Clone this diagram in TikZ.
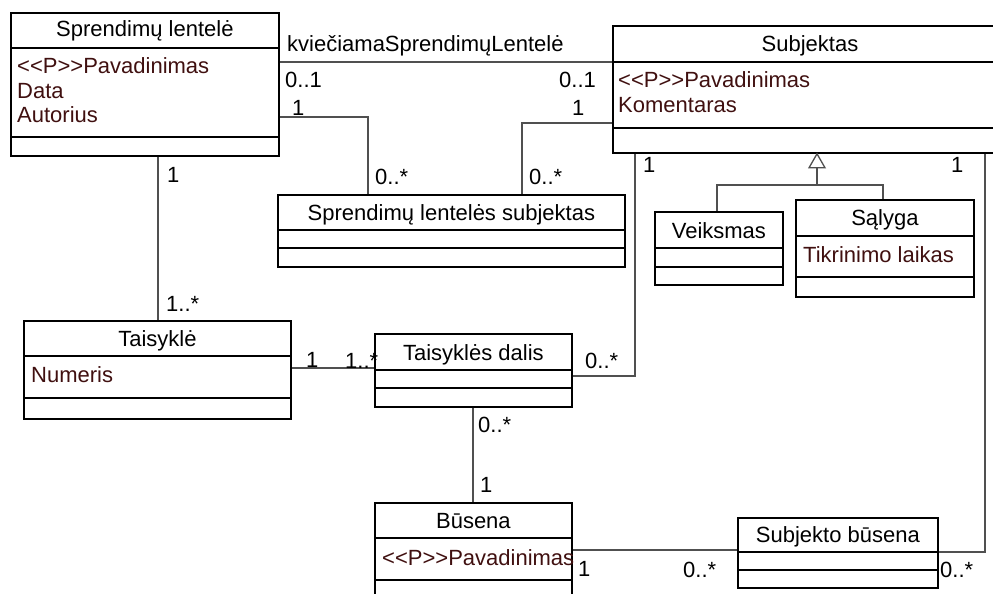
\documentclass[tikz,border=0pt]{standalone}
\usepackage{fontspec}
\setmainfont{Liberation Sans}
\usetikzlibrary{calc}
\definecolor{conncol}{RGB}{80,80,80}
\definecolor{attrcol}{RGB}{64,16,16}
\newcommand\umlcls[7]{%
  \node[cls, minimum width=#4, minimum height=#5] (#1) at (#2,#3) {};
  \draw[box] ([yshift=-#6]#1.north west) -- ([yshift=-#6]#1.north east);
  \draw[box] ([yshift=-#7]#1.north west) -- ([yshift=-#7]#1.north east);
}
\newcommand\PP{<\kern0pt<P>\kern0pt>}
\begin{document}
\begin{tikzpicture}[x=1pt,y=-1pt,
  cls/.style={draw=black, line width=1.8pt, fill=white, inner sep=0pt, anchor=north west},
  box/.style={draw=black, line width=1.8pt},
  conn/.style={draw=conncol, line width=1.6pt},
  txt/.style={inner sep=0pt, font=\fontsize{22}{24}\selectfont, text=black},
  ttl/.style={txt, anchor=base},
  lbl/.style={txt, anchor=base west},
  attr/.style={txt, anchor=base west, text=attrcol}]
\useasboundingbox (0,0) rectangle (993,594);
\clip (0,0) rectangle (993,594);

% classes
\umlcls{sl}{10}{12}{268}{143}{36}{125}
\umlcls{subj}{612}{25}{396}{127}{37}{103}
\umlcls{sls}{277}{194}{347}{72}{36}{54}
\umlcls{ve}{654}{211}{128}{73}{37}{56}
\umlcls{sa}{795}{199}{178}{97}{37}{78}
\umlcls{ta}{23}{320}{267}{98}{36}{78}
\umlcls{td}{374}{333}{197}{73}{37}{55}
\umlcls{bu}{374}{502}{197}{110}{36}{78}
\umlcls{sb}{737}{517}{200}{70}{35}{53}

% titles
\node[ttl] (slT) at ($(sl.north)+(0,25)$) {Sprendimų lentelė};
\node[ttl] (subjT) at ($(612,25)+(198,27)$) {Subjektas};
\node[ttl] (slsT) at ($(sls.north)+(0,26)$) {Sprendimų lentelės subjektas};
\node[ttl] (veT) at ($(ve.north)+(0,27)$) {Veiksmas};
\node[ttl] (saT) at ($(sa.north)+(0,26)$) {Sąlyga};
\node[ttl] (taT) at ($(ta.north)+(0,26)$) {Taisyklė};
\node[ttl] (tdT) at ($(td.north)+(0,27)$) {Taisyklės dalis};
\node[ttl] (buT) at ($(bu.north)+(0,26)$) {Būsena};
\node[ttl] (sbT) at ($(sb.north)+(0,25)$) {Subjekto būsena};

% attributes
\node[attr] (slA1) at (17,74) {\PP Pavadinimas};
\node[attr] (slA2) at (17,98) {Data};
\node[attr] (slA3) at (17,122) {Autorius};
\node[attr] (subjA1) at (618,88) {\PP Pavadinimas};
\node[attr] (subjA2) at (618,112) {Komentaras};
\node[attr] (saA1) at (803,262) {Tikrinimo laikas};
\node[attr] (taA1) at (31,382) {Numeris};
\node[attr] (buA1) at (382,565) {\PP Pavadinimas};

% connectors
\coordinate (a1) at ([yshift=-50]sl.north east);
\draw[conn] (a1) -- (a1 -| subj.west);
\coordinate (b1) at ([yshift=-105]sl.north east);
\coordinate (b2) at ([xshift=91]sls.north west);
\draw[conn] (b1) -| (b2);
\coordinate (c1) at ([yshift=-98]subj.north west);
\coordinate (c2) at ([xshift=245]sls.north west);
\draw[conn] (c1) -| (c2);
\coordinate (d1) at ([xshift=148]sl.south west);
\draw[conn] (d1) -- (d1 |- ta.north);
\coordinate (e1) at ([yshift=-48]ta.north east);
\draw[conn] (e1) -- (e1 -| td.west);
\coordinate (f1) at ([xshift=23]subj.south west);
\coordinate (f2) at ([yshift=-43]td.north east);
\draw[conn] (f1) |- (f2);
\coordinate (g1) at ([xshift=99]td.south west);
\draw[conn] (g1) -- (g1 |- bu.north);
\coordinate (h1) at ([yshift=-48]bu.north east);
\draw[conn] (h1) -- (h1 -| sb.west);
\coordinate (i1) at ([xshift=373]subj.south west);
\coordinate (i2) at ([yshift=-35]sb.north east);
\draw[conn] (i1) |- (i2);

% generalization
\coordinate (gtip) at ([xshift=205]subj.south west);
\coordinate (gv) at ([xshift=63]ve.north west);
\coordinate (gs) at ([xshift=88]sa.north west);
\coordinate (gj) at ($(gtip)+(0,31)$);
\draw[conn] (gv) |- (gj) -| (gs);
\draw[conn] (gj) -- ($(gtip)+(0,14)$);
\draw[conn, line width=1.3pt, fill=white, line join=miter] (gtip) -- ++(-8,14) -- ++(16,0) -- cycle;

% labels
\node[lbl] (lk) at (287,52) {kviečiamaSprendimųLentelė};
\node[lbl] (m1) at (285,88) {0..1};
\node[lbl] (m2) at (559,88) {0..1};
\node[lbl] (m3) at (292,115) {1};
\node[lbl] (m4) at (572,115) {1};
\node[lbl] (m5) at (375,184) {0..*};
\node[lbl] (m6) at (529,184) {0..*};
\node[lbl] (m7) at (643,172) {1};
\node[lbl] (m8) at (951,172) {1};
\node[lbl] (m9) at (167,182) {1};
\node[lbl] (m10) at (166,311) {1..*};
\node[lbl] (m11) at (306,367) {1};
\node[lbl] (m12) at (345,368) {1..*};
\node[lbl] (m13) at (585,368) {0..*};
\node[lbl] (m14) at (478,432) {0..*};
\node[lbl] (m15) at (480,492) {1};
\node[lbl] (m16) at (578,576) {1};
\node[lbl] (m17) at (683,577) {0..*};
\node[lbl] (m18) at (940,577) {0..*};
\end{tikzpicture}
\end{document}
